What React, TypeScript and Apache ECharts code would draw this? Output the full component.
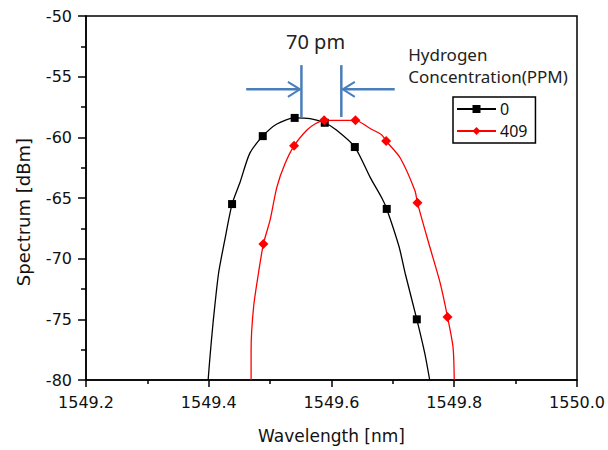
import React, { useEffect, useRef } from "react";
import * as echarts from "echarts";

// ---- data ----
const seriesNames = ["0", "409"];
const xMin = 1549.2;
const xMax = 1550.0;
const xStep = 0.2;
const yMin = -80;
const yMax = -50;
const yStep = 5;

// curve of the 0 ppm spectrum (wavelength nm, dBm)
const blackCurve: [number, number][] = [
  [1549.399, -80.0],
  [1549.402, -78.1],
  [1549.407, -75.3],
  [1549.416, -71.2],
  [1549.426, -68.5],
  [1549.438, -65.5],
  [1549.451, -63.7],
  [1549.467, -61.3],
  [1549.488, -59.9],
  [1549.511, -58.9],
  [1549.540, -58.4],
  [1549.565, -58.45],
  [1549.589, -58.8],
  [1549.608, -59.4],
  [1549.638, -60.8],
  [1549.663, -63.3],
  [1549.682, -65.0],
  [1549.690, -65.9],
  [1549.710, -69.0],
  [1549.720, -71.2],
  [1549.739, -75.0],
  [1549.752, -77.8],
  [1549.760, -80.0],
];
const blackMarkerX = [1549.438, 1549.488, 1549.54, 1549.589, 1549.638, 1549.69, 1549.739];

// curve of the 409 ppm spectrum
const redCurve: [number, number][] = [
  [1549.469, -80.0],
  [1549.469, -77.5],
  [1549.473, -74.0],
  [1549.481, -71.2],
  [1549.489, -68.8],
  [1549.5, -66.8],
  [1549.511, -64.1],
  [1549.524, -62.2],
  [1549.539, -60.7],
  [1549.56, -59.4],
  [1549.573, -58.9],
  [1549.588, -58.6],
  [1549.639, -58.6],
  [1549.663, -59.27],
  [1549.682, -59.8],
  [1549.689, -60.3],
  [1549.712, -61.7],
  [1549.736, -64.4],
  [1549.74, -65.4],
  [1549.76, -69.0],
  [1549.777, -72.0],
  [1549.789, -74.8],
  [1549.798, -77.3],
  [1549.8, -80.0],
];
const redMarkerX = [1549.489, 1549.539, 1549.588, 1549.639, 1549.689, 1549.74, 1549.789];

// annotation (data coordinates)
const gapLinesX = [1549.551, 1549.616];
const gapLinesY: [number, number] = [-54.05, -58.32];
const arrowY = -56.04;
const arrowTailsX = [1549.461, 1549.703];
const gapLabel = "70 pm";
const gapLabelPos: [number, number] = [1549.574, -52.13];
const legendTitle = ["Hydrogen", "Concentration(PPM)"];
const legendTitlePos: [number, number][] = [
  [1549.725, -53.2],
  [1549.725, -55.0],
];

const toData = (curve: [number, number][], markers: number[]) =>
  curve.map(([x, y]) =>
    markers.includes(x) ? { value: [x, y] } : { value: [x, y], symbol: "none" }
  );

const tickFont = "DejaVu Sans";
const annoFont = "Noto Sans";
const blue = "#4a7ebb";

export default function App() {
  const ref = useRef<HTMLDivElement>(null);
  useEffect(() => {
    if (!ref.current) return;
    const chart = echarts.init(ref.current, null, { renderer: "svg" });
    const option: any = {
      animation: false,
      grid: {
        left: 86,
        right: 31,
        top: 16,
        bottom: 70,
        show: true,
        borderColor: "#000",
        borderWidth: 1.5,
        backgroundColor: "transparent",
      },
      xAxis: {
        type: "value",
        min: xMin,
        max: xMax,
        interval: xStep,
        name: "Wavelength [nm]",
        nameLocation: "middle",
        nameGap: 47,
        nameTextStyle: { fontFamily: tickFont, fontSize: 17, color: "#111" },
        axisLine: { lineStyle: { color: "#000", width: 1.5 } },
        axisTick: { inside: false, length: 7, lineStyle: { color: "#000", width: 1.5 } },
        minorTick: { show: true, splitNumber: 2, length: 4, lineStyle: { color: "#000", width: 1.5 } },
        splitLine: { show: false },
        axisLabel: {
          margin: 14,
          fontFamily: tickFont,
          fontSize: 16,
          color: "#111",
          formatter: (v: number) => v.toFixed(1),
        },
      },
      yAxis: {
        type: "value",
        min: yMin,
        max: yMax,
        interval: yStep,
        axisLine: { show: true, lineStyle: { color: "#000", width: 1.5 } },
        axisTick: { show: true, inside: false, length: 8, lineStyle: { color: "#000", width: 1.5 } },
        minorTick: { show: true, splitNumber: 2, length: 5, lineStyle: { color: "#000", width: 1.5 } },
        splitLine: { show: false },
        axisLabel: { margin: 14, fontFamily: tickFont, fontSize: 16, color: "#111" },
      },
      legend: {
        orient: "vertical",
        left: 453,
        top: 97,
        borderColor: "#000",
        borderWidth: 1.5,
        borderRadius: 0,
        padding: [4, 8, 4, 3],
        itemWidth: 39,
        itemHeight: 10,
        itemGap: 6,
        textStyle: { fontFamily: annoFont, fontSize: 16, color: "#111", padding: [0, 0, 0, -1] },
        data: seriesNames,
      },
      series: [
        {
          name: seriesNames[0],
          type: "line",
          smooth: 0.25,
          symbol: "rect",
          symbolSize: 8,
          color: "#000",
          lineStyle: { color: "#000", width: 1.3 },
          itemStyle: { color: "#000" },
          data: toData(blackCurve, blackMarkerX),
        },
        {
          name: seriesNames[1],
          type: "line",
          smooth: 0.25,
          symbol: "diamond",
          symbolSize: 10,
          color: "#ff0000",
          lineStyle: { color: "#ff0000", width: 1.3 },
          itemStyle: { color: "#ff0000" },
          data: toData(redCurve, redMarkerX),
        },
      ],
    };
    chart.setOption(option);

    const p = (pt: [number, number]) =>
      chart.convertToPixel({ xAxisIndex: 0, yAxisIndex: 0 }, pt) as number[];
    const g: any[] = [];
    const lineStyle = { stroke: blue, lineWidth: 2.5 };
    gapLinesX.forEach((x) => {
      const a = p([x, gapLinesY[0]]);
      const b = p([x, gapLinesY[1]]);
      g.push({ type: "line", shape: { x1: a[0], y1: a[1], x2: b[0], y2: b[1] }, style: lineStyle });
    });
    // left arrow pointing right, right arrow pointing left
    [0, 1].forEach((i) => {
      const tail = p([arrowTailsX[i], arrowY]);
      const head = p([gapLinesX[i], arrowY]);
      const dir = i === 0 ? 1 : -1;
      const hx = head[0] - dir * 1.5;
      g.push({ type: "line", shape: { x1: tail[0], y1: tail[1], x2: hx, y2: head[1] }, style: lineStyle });
      g.push({
        type: "polyline",
        shape: { points: [[hx - dir * 12, head[1] - 7.5], [hx, head[1]], [hx - dir * 12, head[1] + 7.5]] },
        style: { stroke: blue, lineWidth: 2, fill: "none" },
      });
    });
    const lp = p(gapLabelPos);
    g.push({
      type: "text",
      x: lp[0],
      y: lp[1],
      style: {
        text: gapLabel,
        fontFamily: annoFont,
        fontSize: 20,
        fill: "#222",
        textAlign: "center",
        textVerticalAlign: "middle",
        align: "center",
        verticalAlign: "middle",
      },
    });
    legendTitle.forEach((t, i) => {
      const tp = p(legendTitlePos[i]);
      g.push({
        type: "text",
        x: tp[0],
        y: tp[1],
        style: {
          text: t,
          fontFamily: annoFont,
          fontSize: 17,
          fill: "#222",
          textAlign: "left",
          textVerticalAlign: "middle",
          align: "left",
          verticalAlign: "middle",
        },
      });
    });
    g.push({
      type: "text",
      x: 23,
      y: 212,
      rotation: Math.PI / 2,
      style: {
        text: "Spectrum [dBm]",
        fontFamily: tickFont,
        fontSize: 18,
        fill: "#111",
        textAlign: "center",
        textVerticalAlign: "middle",
        align: "center",
        verticalAlign: "middle",
      },
    });
    chart.setOption({ graphic: g });
    return () => chart.dispose();
  }, []);
  return (
    <div
      ref={ref}
      style={{ position: "fixed", left: 0, top: 0, width: 608, height: 450, background: "#fff" }}
    />
  );
}
